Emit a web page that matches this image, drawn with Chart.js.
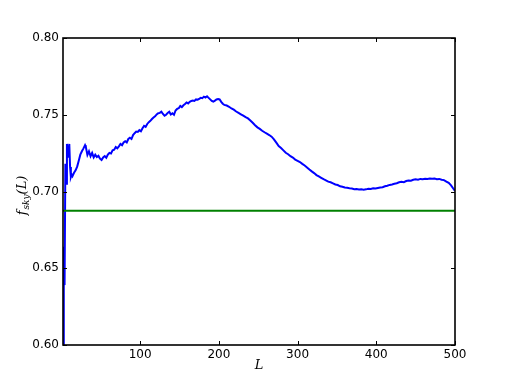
<!DOCTYPE html>
<html>
<head>
<meta charset="utf-8">
<script src="https://cdn.jsdelivr.net/npm/chart.js@4/dist/chart.umd.min.js"></script>
<style>
  body { margin: 0; background: #fff; }
  canvas { display: block; }
</style>
</head>
<body>
<canvas id="myChart" width="506" height="382"></canvas>
<script>
// multipole L and f_sky(L)
const ell = [2, 3, 4, 5, 6, 7, 8, 9, 10, 11, 12, 13, 14, 16, 18, 20, 22, 24, 26, 28,
  30, 31, 33, 35, 37, 39, 41, 43, 45, 47, 49, 51, 53, 55, 57, 59, 61, 63, 65, 67,
  69, 71, 73, 75, 77, 79, 81, 83, 85, 87, 89, 91, 93, 95, 97, 99, 101, 103, 105, 107,
  109, 111, 113, 115, 117, 119, 121, 123, 125, 127, 129, 131, 133, 135, 137, 139, 141, 143, 145, 147,
  149, 151, 153, 155, 157, 159, 161, 163, 165, 167, 169, 171, 173, 175, 177, 179, 181, 183, 185, 187,
  189, 191, 193, 195, 197, 199, 201, 203, 205, 207, 210, 213, 216, 219, 222, 225, 228, 231, 234, 237,
  240, 243, 246, 249, 252, 255, 258, 261, 264, 267, 270, 273, 276, 279, 282, 285, 288, 291, 294, 297,
  300, 303, 306, 309, 312, 315, 318, 321, 324, 327, 330, 333, 336, 339, 342, 345, 348, 351, 354, 357,
  360, 363, 366, 369, 372, 375, 378, 381, 384, 387, 390, 393, 396, 399, 402, 405, 408, 411, 414, 417,
  420, 423, 426, 429, 432, 435, 438, 441, 444, 447, 450, 453, 456, 459, 462, 465, 468, 471, 474, 477,
  480, 483, 486, 489, 492, 495, 498, 500];
const fsky = [0.6000, 0.6640, 0.6390, 0.7180, 0.7050, 0.7310, 0.7220, 0.7270, 0.7310, 0.7160, 0.7095, 0.7110, 0.7100, 0.7122, 0.7138, 0.7162, 0.7200, 0.7240, 0.7262, 0.7281,
  0.7302, 0.7290, 0.7238, 0.7262, 0.7230, 0.7252, 0.7222, 0.7240, 0.7225, 0.7233, 0.7214, 0.7205, 0.7222, 0.7231, 0.7220, 0.7240, 0.7252, 0.7248, 0.7268, 0.7272,
  0.7290, 0.7281, 0.7294, 0.7310, 0.7302, 0.7320, 0.7328, 0.7320, 0.7342, 0.7350, 0.7342, 0.7368, 0.7380, 0.7390, 0.7388, 0.7400, 0.7392, 0.7412, 0.7428, 0.7421,
  0.7440, 0.7452, 0.7460, 0.7472, 0.7482, 0.7490, 0.7502, 0.7510, 0.7512, 0.7520, 0.7505, 0.7494, 0.7500, 0.7512, 0.7520, 0.7502, 0.7510, 0.7500, 0.7528, 0.7538,
  0.7542, 0.7558, 0.7550, 0.7562, 0.7570, 0.7580, 0.7574, 0.7584, 0.7590, 0.7592, 0.7590, 0.7600, 0.7598, 0.7604, 0.7610, 0.7608, 0.7618, 0.7612, 0.7620, 0.7610,
  0.7600, 0.7590, 0.7585, 0.7592, 0.7600, 0.7602, 0.7600, 0.7584, 0.7572, 0.7564, 0.7560, 0.7552, 0.7541, 0.7533, 0.7521, 0.7512, 0.7503, 0.7494, 0.7484, 0.7476,
  0.7463, 0.7448, 0.7432, 0.7418, 0.7408, 0.7396, 0.7386, 0.7377, 0.7368, 0.7357, 0.7340, 0.7318, 0.7296, 0.7283, 0.7268, 0.7252, 0.7243, 0.7230, 0.7221, 0.7208,
  0.7200, 0.7192, 0.7180, 0.7169, 0.7157, 0.7143, 0.7131, 0.7120, 0.7107, 0.7098, 0.7089, 0.7080, 0.7073, 0.7064, 0.7060, 0.7053, 0.7046, 0.7042, 0.7034, 0.7031,
  0.7026, 0.7024, 0.7021, 0.7019, 0.7015, 0.7016, 0.7013, 0.7014, 0.7012, 0.7014, 0.7018, 0.7016, 0.7021, 0.7019, 0.7023, 0.7026, 0.7028, 0.7034, 0.7038, 0.7043,
  0.7046, 0.7050, 0.7054, 0.7060, 0.7063, 0.7061, 0.7068, 0.7071, 0.7070, 0.7076, 0.7079, 0.7077, 0.7082, 0.7080, 0.7083, 0.7081, 0.7085, 0.7083, 0.7084, 0.7080,
  0.7082, 0.7077, 0.7074, 0.7065, 0.7056, 0.7040, 0.7018, 0.7003];
const fskyMean = 0.6875;   // green reference line
const xTicks = [100, 200, 300, 400, 500];
const yTicks = [0.60, 0.65, 0.70, 0.75, 0.80];

const ctx = document.getElementById('myChart').getContext('2d');

// frame, inward ticks on all four sides, axis titles
const framePlugin = {
  id: 'frame',
  afterDatasetsDraw(chart) {
    const c = chart.ctx;
    const a = chart.chartArea;
    const sx = chart.scales.x, sy = chart.scales.y;
    c.save();
    c.strokeStyle = '#000';
    c.lineWidth = 1;
    xTicks.forEach(v => {
      const px = Math.round(sx.getPixelForValue(v)) + 0.5;
      c.beginPath();
      c.moveTo(px, a.bottom); c.lineTo(px, a.bottom - 4);
      c.moveTo(px, a.top); c.lineTo(px, a.top + 4);
      c.stroke();
    });
    yTicks.forEach(v => {
      const py = Math.round(sy.getPixelForValue(v)) + 0.5;
      c.beginPath();
      c.moveTo(a.left, py); c.lineTo(a.left + 4, py);
      c.moveTo(a.right, py); c.lineTo(a.right - 4, py);
      c.stroke();
    });
    c.lineWidth = 1.6;
    c.strokeRect(a.left, a.top, a.right - a.left, a.bottom - a.top);

    // x title
    c.fillStyle = '#000';
    c.font = 'italic 13px "DejaVu Serif"';
    c.textAlign = 'center';
    c.textBaseline = 'middle';
    c.fillText('L', (a.left + a.right) / 2, 366);

    // y title: f_sky(L)
    c.translate(21, (a.top + a.bottom) / 2 + 4);
    c.rotate(-Math.PI / 2);
    c.textAlign = 'left';
    c.textBaseline = 'alphabetic';
    const big = 'italic 13px "DejaVu Serif"', small = 'italic 9px "DejaVu Serif"';
    c.font = big; const w1 = c.measureText('f').width;
    c.font = small; const w2 = c.measureText('sky').width;
    c.font = big; const w3 = c.measureText('(L)').width;
    let x0 = -(w1 + w2 + w3 + 1) / 2;
    c.font = big; c.fillText('f', x0, 5);
    c.font = small; c.fillText('sky', x0 + w1 + 1, 8);
    c.font = big; c.fillText('(L)', x0 + w1 + w2 + 1, 5);
    c.restore();
  }
};

const myChart = new Chart(ctx, {
  type: 'line',
  data: {
    datasets: [{
      label: 'mean',
      data: [{ x: ell[0], y: fskyMean }, { x: ell[ell.length - 1], y: fskyMean }],
      borderColor: '#008000',
      borderWidth: 2,
      pointRadius: 0,
      order: 0
    }, {
      label: 'fsky',
      data: ell.map((l, i) => ({ x: l, y: fsky[i] })),
      borderColor: '#0000ff',
      borderWidth: 2,
      pointRadius: 0,
      tension: 0,
      order: 1
    }]
  },
  options: {
    responsive: false,
    animation: false,
    events: [],
    layout: { padding: { top: 38, right: 51, left: 0, bottom: 0 } },
    plugins: { legend: { display: false }, tooltip: { enabled: false } },
    scales: {
      x: {
        type: 'linear',
        min: 2,
        max: 500,
        grid: { display: false, drawTicks: false },
        border: { display: false },
        afterBuildTicks: s => { s.ticks = xTicks.map(v => ({ value: v })); },
        afterFit: s => { s.height = 37; },
        ticks: {
          padding: 3,
          color: '#000',
          font: { family: '"DejaVu Sans"', size: 12 },
          maxRotation: 0
        }
      },
      y: {
        min: 0.6,
        max: 0.8,
        grid: { display: false, drawTicks: false },
        border: { display: false },
        afterBuildTicks: s => { s.ticks = yTicks.map(v => ({ value: v })); },
        afterFit: s => { s.width = 63; },
        ticks: {
          padding: 4,
          color: '#000',
          font: { family: '"DejaVu Sans"', size: 12 },
          callback: v => v.toFixed(2)
        }
      }
    }
  },
  plugins: [framePlugin]
});
</script>
</body>
</html>
